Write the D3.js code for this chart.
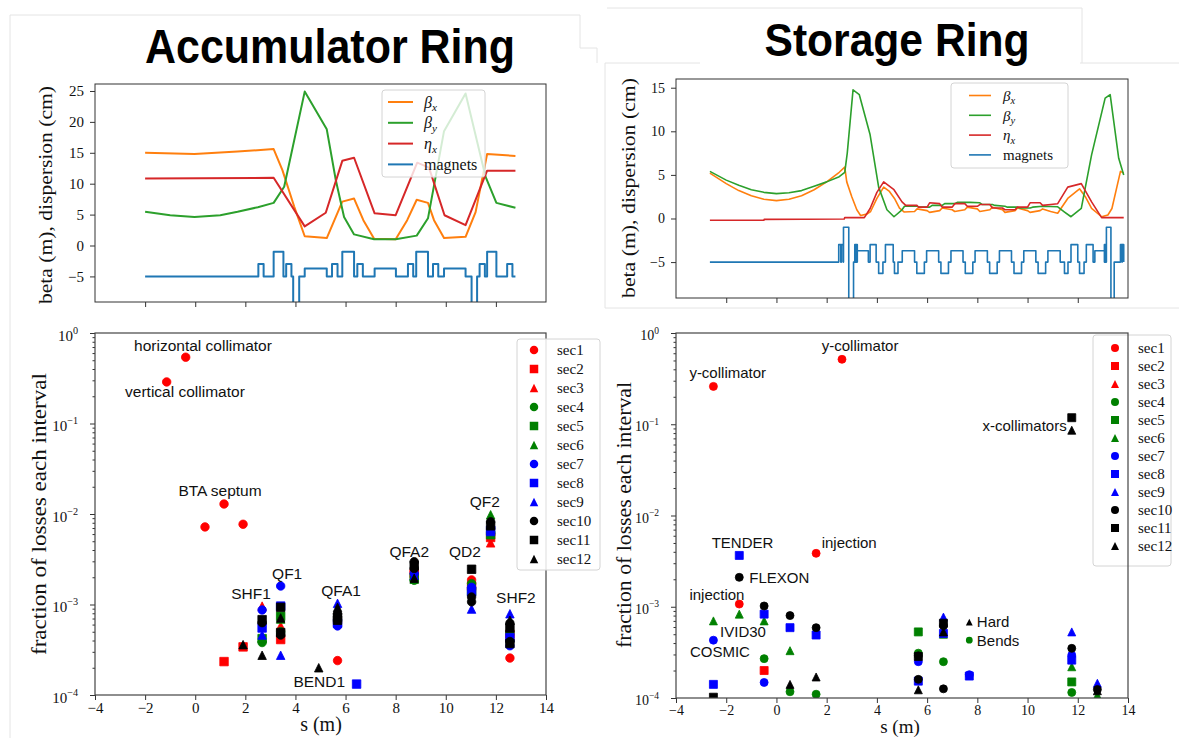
<!DOCTYPE html>
<html>
<head>
<meta charset="utf-8">
<script src="https://cdn.jsdelivr.net/npm/d3@7"></script>
<style>
  body { margin: 0; background: #fff; }
</style>
</head>
<body>
<svg id="chart" width="1179" height="738"></svg>
<script>
// ---------------- data ----------------
// optics, accumulator ring: [s (m), value]
const arBetaX = [[-2,15.0],[-0.03,14.8],[1.69,15.2],[3.13,15.6],[3.48,12.2],[3.95,6.3],[4.37,1.5],[5.25,1.2],[5.87,7.1],[6.34,7.6],[6.71,4.1],[7.14,1.1],[8.0,1.0],[8.46,4.1],[8.84,7.4],[9.29,6.9],[9.53,4.1],[9.93,1.2],[10.79,1.4],[11.19,5.4],[11.65,14.8],[12.78,14.5]];
const arBetaY = [[-2,5.45],[-1,4.9],[-0.03,4.6],[1,4.9],[1.69,5.45],[2.5,6.2],[3.13,6.9],[3.55,9.5],[4.37,24.9],[5.25,18.8],[5.61,10.6],[5.94,4.6],[6.34,1.8],[7.14,1.0],[8.0,1.0],[8.84,1.6],[9.29,4.4],[9.93,18.5],[10.79,24.6],[11.59,11.1],[12.02,6.9],[12.78,6.1]];
const arEtaX = [[-2,10.84],[3.13,10.95],[4.37,3.1],[5.21,5.3],[5.87,13.7],[6.34,14.2],[7.16,5.2],[8.0,4.9],[8.86,13.4],[9.33,12.6],[9.95,4.9],[10.79,3.3],[11.65,12.1],[12.78,12.1]];
// magnets: [s start, s end, level]
const arMagnets = [[2.52,2.73,-3],[3.13,3.52,-1],[3.63,3.84,-3],[3.91,4.15,-10],[4.37,5.25,-3.7],[5.46,5.68,-3],[5.87,6.34,-1],[6.47,6.69,-3],[7.16,8.01,-3.7],[8.49,8.70,-3],[8.82,9.29,-1],[9.49,9.70,-3],[9.93,10.79,-3.7],[11.03,11.25,-10],[11.35,11.56,-3],[11.65,12.02,-1],[12.45,12.66,-3]];
const arSpan = [-2, 12.78];

// optics, storage ring
const srBetaX = [[-2.65,5.2],[-2.0,4.0],[-1.5,3.2],[-1.0,2.6],[-0.5,2.2],[0,2.05],[0.5,2.2],[1.0,2.6],[1.5,3.3],[2.0,4.2],[2.5,5.3],[2.72,5.9],[2.8,4.2],[3.0,2.5],[3.2,1.0],[3.35,0.35],[3.6,0.5],[3.75,0.8],[4.0,2.3],[4.27,3.6],[4.5,3.1],[4.7,2.3],[4.9,1.2],[5.08,0.75],[5.5,0.8],[5.6,1.1],[6.0,0.9],[6.1,0.7],[6.5,0.9],[6.6,1.2],[7.0,1.0],[7.1,0.8],[7.5,1.0],[7.6,1.3],[8.0,1.1],[8.1,0.8],[8.5,1.0],[8.6,1.3],[9.0,1.0],[9.1,0.7],[9.5,0.9],[9.6,1.2],[10.0,0.9],[10.1,0.7],[10.5,0.9],[10.6,1.1],[10.92,0.8],[11.2,0.6],[11.6,2.3],[12.07,3.4],[12.3,2.5],[12.55,1.15],[12.95,0.2],[13.2,0.4],[13.36,1.15],[13.7,5.4],[13.83,5.2]];
const srBetaY = [[-2.65,5.4],[-2.0,4.4],[-1.5,3.8],[-1.0,3.3],[-0.5,3.0],[0,2.85],[0.5,2.95],[1.0,3.2],[1.5,3.7],[2.0,4.2],[2.5,4.8],[2.72,5.3],[2.82,7.5],[3.05,14.75],[3.3,14.2],[3.73,9.6],[4.07,3.6],[4.4,1.0],[4.68,0.2],[5.0,1.0],[5.1,1.4],[5.6,1.4],[5.7,1.3],[6.1,1.3],[6.2,1.5],[6.6,1.5],[6.7,1.7],[7.1,1.7],[7.2,1.85],[7.7,1.85],[8.1,1.8],[8.2,1.6],[8.6,1.6],[8.7,1.5],[9.1,1.4],[9.2,1.3],[9.6,1.3],[9.7,1.2],[10.1,1.2],[10.2,1.3],[10.6,1.4],[11.19,1.35],[11.46,0.77],[11.73,0.2],[12.14,1.15],[12.55,7.3],[13.09,13.8],[13.29,14.2],[13.63,6.9],[13.83,5.0]];
const srEtaX = [[-2.65,-0.2],[-0.5,-0.2],[-0.49,-0.1],[2.7,-0.05],[2.72,0.1],[3.5,0.1],[3.73,1.15],[4.0,3.0],[4.27,4.2],[4.68,3.3],[5.0,1.9],[5.15,1.5],[5.6,1.5],[5.65,1.3],[6.0,1.3],[6.1,1.8],[6.5,1.7],[6.6,1.3],[7.0,1.3],[7.1,1.7],[7.5,1.7],[7.6,1.4],[8.0,1.4],[8.1,1.6],[8.5,1.6],[8.6,1.2],[9.0,1.2],[9.1,1.0],[9.5,1.0],[9.6,1.3],[10.0,1.3],[10.1,1.8],[10.5,1.8],[10.6,1.5],[10.92,1.6],[11.2,1.7],[11.6,3.6],[12.14,4.0],[12.55,1.9],[12.95,0.1],[13.83,0.1]];
const srMagnets = [[2.48,2.56,-3],[2.59,2.66,-3],[2.67,2.88,-1],[2.88,3.07,-10],[3.12,3.16,-3],[3.18,3.22,-3],[3.22,3.66,-3.7],[3.73,3.97,-3],[4.07,4.24,-6.3],[4.34,4.65,-3],[4.70,4.84,-6.3],[5.01,5.50,-3.7],[5.59,5.89,-6.3],[5.98,6.46,-3.7],[6.55,6.85,-6.3],[6.95,7.43,-3.7],[7.52,7.82,-6.3],[7.91,8.40,-3.7],[8.49,8.79,-6.3],[8.88,9.36,-3.7],[9.46,9.76,-6.3],[9.85,10.33,-3.7],[10.42,10.72,-6.3],[10.81,11.30,-3.7],[11.47,11.61,-6.3],[11.73,12.0,-3],[12.07,12.25,-6.3],[12.34,12.61,-3],[12.68,13.06,-3.7],[13.06,13.1,-3],[13.1,13.14,-3],[13.14,13.32,-1],[13.32,13.45,-10],[13.7,13.76,-3],[13.77,13.83,-3]];
const srSpan = [-2.65, 13.83];

// losses per sector, accumulator ring: [s (m), fraction]
const arSec01 = [[-1.14,0.288],[-0.38,0.54],[0.39,0.0072],[1.15,0.0129],[1.91,0.0077],[5.68,2.4e-4],[8.74,2.3e-3],[11.03,1.87e-3],[11.79,6.0e-3],[12.56,2.56e-4]];
const arSec02 = [[1.15,2.34e-4],[1.91,3.4e-4],[3.41,4.1e-4],[8.74,2.2e-3],[11.03,1.6e-3],[11.79,5.5e-3],[12.56,4.7e-4]];
const arSec03 = [[2.67,9.6e-4],[3.41,5.8e-4],[5.68,7.0e-4],[8.74,2.1e-3],[11.79,4.8e-3],[12.56,5.1e-4]];
const arSec04 = [[2.67,3.8e-4],[3.41,5.0e-4],[8.74,1.85e-3],[11.03,1.7e-3],[11.79,6.2e-3],[12.56,4.9e-4]];
const arSec05 = [[2.67,4.2e-4],[3.41,7.4e-4],[8.74,2.0e-3],[11.03,1.4e-3],[11.79,5.9e-3]];
const arSec06 = [[2.67,4.3e-4],[3.41,6.9e-4],[5.68,7.5e-4],[8.74,1.9e-3],[11.79,9.8e-3],[12.56,4.5e-4]];
const arSec07 = [[2.67,8.7e-4],[3.41,1.6e-3],[5.68,5.8e-4],[8.74,2.2e-3],[11.03,1.55e-3],[11.79,7.0e-3],[12.56,3.5e-4]];
const arSec08 = [[2.67,5.5e-4],[3.41,9.6e-4],[5.68,6.2e-4],[6.44,1.32e-4],[11.03,1.38e-3],[11.79,6.6e-3],[12.56,4.3e-4]];
const arSec09 = [[2.67,4.6e-4],[3.41,2.75e-4],[5.68,1.03e-3],[8.74,2.1e-3],[11.03,8.9e-4],[11.79,6.4e-3],[12.56,7.9e-4]];
const arSec10 = [[2.67,6.3e-4],[3.41,4.6e-4],[5.68,7.9e-4],[8.74,2.97e-3],[8.74,2.5e-3],[11.03,1.21e-3],[11.03,1.07e-3],[11.79,8.2e-3],[12.56,6.2e-4],[12.56,3.9e-4]];
const arSec11 = [[2.67,6.8e-4],[3.41,9.3e-4],[3.41,4.9e-4],[5.68,7.2e-4],[5.68,6.7e-4],[8.74,2.7e-3],[11.03,2.45e-3],[11.79,7.4e-3],[12.56,5.5e-4],[12.56,3.7e-4]];
const arSec12 = [[1.91,3.6e-4],[2.67,2.75e-4],[3.41,7.1e-4],[4.93,2.0e-4],[5.68,9.3e-4],[8.74,1.95e-3],[11.79,7.6e-3],[12.56,6.7e-4]];

// losses per sector, storage ring
const srSec01 = [[-2.51,0.26],[-1.48,1.07e-3],[1.58,3.85e-3],[2.61,0.515]];
const srSec02 = [[-0.49,2.0e-4]];
const srSec03 = [];
const srSec04 = [[-0.49,2.7e-4],[0.54,1.17e-4],[1.58,1.1e-4],[5.65,3.1e-4],[6.65,2.5e-4],[11.76,1.15e-4]];
const srSec05 = [[5.65,5.3e-4],[11.76,1.5e-4]];
const srSec06 = [[-2.51,7.0e-4],[-1.48,8.3e-4],[-0.49,7.0e-4],[0.54,3.3e-4],[6.65,5.0e-4],[11.76,2.2e-4],[12.78,1.07e-4]];
const srSec07 = [[-2.51,4.3e-4],[-0.49,1.48e-4],[5.65,2.5e-4],[7.68,1.8e-4],[11.76,2.95e-4]];
const srSec08 = [[-2.51,1.41e-4],[-1.48,3.65e-3],[-0.49,8.3e-4],[0.54,5.9e-4],[1.58,4.9e-4],[5.65,1.53e-4],[6.65,5.1e-4],[7.68,1.74e-4],[11.76,2.6e-4]];
const srSec09 = [[6.65,7.7e-4],[11.76,5.3e-4],[12.78,1.45e-4]];
const srSec10 = [[-1.48,2.1e-3],[-0.49,1.02e-3],[0.54,8.0e-4],[1.58,5.9e-4],[5.65,2.9e-4],[5.65,1.6e-4],[6.65,6.2e-4],[6.65,1.26e-4],[11.76,3.5e-4],[12.78,1.24e-4]];
const srSec11 = [[-2.51,1.02e-4],[5.65,2.85e-4],[6.65,6.6e-4],[11.76,0.118]];
const srSec12 = [[0.54,1.41e-4],[1.58,1.7e-4],[5.65,1.23e-4],[6.65,5.3e-4],[11.76,0.086],[12.78,1.2e-4]];

// annotations: [text, s, fraction, anchor]
const arNotes = [["horizontal collimator",0.31,0.637,"middle"],["vertical collimator",-0.41,0.196,"middle"],["BTA septum",0.99,0.0158,"middle"],["SHF1",2.23,1.15e-3,"middle"],["QF1",3.67,1.9e-3,"middle"],["QFA1",5.82,1.24e-3,"middle"],["BEND1",4.95,1.24e-4,"middle"],["QFA2",8.54,3.37e-3,"middle"],["QD2",10.76,3.37e-3,"middle"],["QF2",11.56,0.012,"middle"],["SHF2",12.8,1.05e-3,"middle"]];
const srNotes = [["y-collimator",-1.94,0.325,"middle"],["y-collimator",3.33,0.635,"middle"],["TENDER",-1.35,4.35e-3,"middle"],["injection",1.80,4.35e-3,"start"],["FLEXON",-1.08,1.8e-3,"start"],["injection",-2.37,1.2e-3,"middle"],["IVID30",-1.33,4.68e-4,"middle"],["COSMIC",-2.25,2.83e-4,"middle"],["x-collimators",11.56,0.0838,"end"],["Hard",7.98,5.98e-4,"start"],["Bends",7.98,3.75e-4,"start"]];
// small key markers next to Hard / Bends
const srKey = [[7.68,6.8e-4,"^","#000000"],[7.68,4.3e-4,"o","#008000"]];

const secLabels = ["sec1","sec2","sec3","sec4","sec5","sec6","sec7","sec8","sec9","sec10","sec11","sec12"];
const secColors = ["#ff0000","#ff0000","#ff0000","#008000","#008000","#008000","#0000ff","#0000ff","#0000ff","#000000","#000000","#000000"];
const secShapes = ["o","s","^","o","s","^","o","s","^","o","s","^"];

const opticsLabels = [["β","x"],["β","y"],["η","x"],["magnets",""]];
const opticsColors = ["#ff7f0e","#2ca02c","#d62728","#1f77b4"];

const xTicksTop = [-2,0,2,4,6,8,10,12];
const xTicksBottom = [-4,-2,0,2,4,6,8,10,12,14];
const decades = [1e-4,1e-3,1e-2,1e-1,1];
const decadeExp = [-4,-3,-2,-1,0];

// ---------------- drawing ----------------
const svg = d3.select("#chart");
const serif = "Liberation Serif, DejaVu Serif, serif";
const sans = "Liberation Sans, Arial, sans-serif";
const MINUS = "\u2212";
const fmt = d => d < 0 ? MINUS + Math.abs(d) : String(d);

// faint frames of the pasted panels
const faint = svg.append("g").attr("fill", "none").attr("stroke", "#e4e4e4").attr("stroke-width", 1);
faint.append("path").attr("d", "M10,15H580V48H597V63");
faint.append("path").attr("d", "M10,15V738");
faint.append("path").attr("d", "M607,8H1082V63");
faint.append("path").attr("d", "M605,63H700M1080,63H1179M605,63V308H1179");

// titles
svg.append("text").attr("x", 330).attr("y", 63).attr("text-anchor", "middle")
  .attr("font-family", sans).attr("font-weight", "bold").attr("font-size", 49)
  .attr("textLength", 370).attr("lengthAdjust", "spacingAndGlyphs").text("Accumulator Ring");
svg.append("text").attr("x", 897).attr("y", 56).attr("text-anchor", "middle")
  .attr("font-family", sans).attr("font-weight", "bold").attr("font-size", 47)
  .attr("textLength", 265).attr("lengthAdjust", "spacingAndGlyphs").text("Storage Ring");

function markerPath(shape, m) {
  const p = d3.path(), r = m / 2;
  if (shape === "o") p.arc(0, 0, r, 0, 2 * Math.PI);
  else if (shape === "s") p.rect(-r, -r, m, m);
  else { p.moveTo(0, -r); p.lineTo(r, r); p.lineTo(-r, r); p.closePath(); }
  return p.toString();
}

function magnetPoints(list, span) {
  const pts = [[span[0], -5]];
  list.forEach(([a, b, h]) => { pts.push([a, -5], [a, h], [b, h], [b, -5]); });
  pts.push([span[1], -5]);
  return pts;
}

function styleAxis(a, size) {
  a.select(".domain").remove();
  a.selectAll("line").attr("stroke", "#333").attr("stroke-width", 1);
  a.selectAll("text").attr("font-family", serif).attr("font-size", size).attr("fill", "#111");
}

function yLabel(cx, cy, len, size, text) {
  svg.append("text").attr("transform", `translate(${cx},${cy}) rotate(-90)`)
    .attr("text-anchor", "middle").attr("dy", "0.35em")
    .attr("font-family", serif).attr("font-size", size).attr("fill", "#111")
    .attr("textLength", len).attr("lengthAdjust", "spacingAndGlyphs").text(text);
}

function opticsPanel(o) {
  const g = svg.append("g");
  const x = d3.scaleLinear().domain([-4, 14]).range([o.left, o.right]);
  const y = d3.scaleLinear().domain(o.yDomain).range([o.bottom, o.top]);
  svg.append("clipPath").attr("id", o.id).append("rect")
    .attr("x", o.left).attr("y", o.top).attr("width", o.right - o.left).attr("height", o.bottom - o.top);
  const plot = g.append("g").attr("clip-path", `url(#${o.id})`);
  const line = d3.line().x(d => x(d[0])).y(d => y(d[1]));
  const series = [o.bx, o.by, o.eta, magnetPoints(o.magnets, o.span)];
  series.forEach((s, i) => {
    plot.append("path").datum(s).attr("d", line).attr("fill", "none")
      .attr("stroke", opticsColors[i]).attr("stroke-width", o.lw).attr("stroke-linejoin", "round");
  });

  const xa = g.append("g").attr("transform", `translate(0,${o.bottom})`)
    .call(d3.axisBottom(x).tickValues(xTicksTop).tickSize(5).tickSizeOuter(0).tickFormat(""));
  styleAxis(xa, o.tick);
  const ya = g.append("g").attr("transform", `translate(${o.left},0)`)
    .call(d3.axisLeft(y).tickValues(o.yTicks).tickSize(5).tickPadding(6).tickSizeOuter(0).tickFormat(fmt));
  styleAxis(ya, o.tick);
  g.append("rect").attr("x", o.left).attr("y", o.top).attr("width", o.right - o.left).attr("height", o.bottom - o.top)
    .attr("fill", "none").attr("stroke", "#333").attr("stroke-width", 1);

  // legend
  const L = o.legend;
  const lg = g.append("g");
  lg.append("rect").attr("x", L.x).attr("y", L.y).attr("width", L.w).attr("height", L.h).attr("rx", 3)
    .attr("fill", "#fff").attr("fill-opacity", 0.8).attr("stroke", "#d4d4d4");
  opticsLabels.forEach(([main, sub], i) => {
    const yy = L.y + L.row0 + i * L.step;
    lg.append("line").attr("x1", L.x + L.l0).attr("x2", L.x + L.l1).attr("y1", yy).attr("y2", yy)
      .attr("stroke", opticsColors[i]).attr("stroke-width", o.lw);
    const t = lg.append("text").attr("x", L.x + L.tx).attr("y", yy).attr("dy", "0.35em")
      .attr("font-family", serif).attr("font-size", L.font).attr("fill", "#111");
    if (sub) {
      t.append("tspan").attr("font-style", "italic").text(main);
      t.append("tspan").attr("font-style", "italic").attr("font-size", L.font * 0.7).attr("dy", L.font * 0.22).text(sub);
    } else {
      t.text(main);
    }
  });
  yLabel(o.ylab[0], o.ylab[1], o.ylab[2], o.ylab[3], "beta (m), dispersion (cm)");
}

function lossPanel(o) {
  const g = svg.append("g");
  const x = d3.scaleLinear().domain([-4, 14]).range([o.left, o.right]);
  const y = d3.scaleLog().domain([1e-4, 1]).range([o.bottom, o.top]);
  svg.append("clipPath").attr("id", o.id).append("rect")
    .attr("x", o.left).attr("y", o.top).attr("width", o.right - o.left).attr("height", o.bottom - o.top);

  const frame = () => g.append("rect").attr("x", o.left).attr("y", o.top)
    .attr("width", o.right - o.left).attr("height", o.bottom - o.top)
    .attr("fill", "none").attr("stroke", "#444").attr("stroke-width", 1.2);

  const xa = g.append("g").attr("transform", `translate(0,${o.bottom})`)
    .call(d3.axisBottom(x).tickValues(xTicksBottom).tickSize(5).tickPadding(2).tickSizeOuter(0).tickFormat(fmt));
  styleAxis(xa, o.tick);

  const minors = [];
  decades.slice(0, 4).forEach(d => { for (let k = 2; k < 10; k++) minors.push(d * k); });
  const ym = g.append("g").attr("transform", `translate(${o.left},0)`)
    .call(d3.axisLeft(y).tickValues(minors).tickSize(2.5).tickSizeOuter(0).tickFormat(""));
  styleAxis(ym, o.tick);
  const yM = g.append("g").attr("transform", `translate(${o.left},0)`)
    .call(d3.axisLeft(y).tickValues(decades).tickSize(5).tickSizeOuter(0).tickFormat(""));
  styleAxis(yM, o.tick);
  decades.forEach((d, i) => {
    const t = g.append("text").attr("x", o.left - 17).attr("y", y(d)).attr("dy", "0.5em")
      .attr("text-anchor", "end").attr("font-family", serif).attr("font-size", o.tick).attr("fill", "#111");
    t.append("tspan").text("10");
    t.append("tspan").attr("font-size", o.tick * 0.68).attr("dy", -o.tick * 0.45)
      .text(decadeExp[i] < 0 ? MINUS + Math.abs(decadeExp[i]) : decadeExp[i]);
  });

  if (!o.frameOnTop) frame();

  const plot = g.append("g").attr("clip-path", `url(#${o.id})`);
  o.series.forEach((pts, i) => {
    plot.append("g").selectAll("path").data(pts).join("path")
      .attr("transform", d => `translate(${x(d[0])},${y(d[1])})`)
      .attr("d", markerPath(secShapes[i], o.m))
      .attr("fill", secColors[i]).attr("stroke", secColors[i]).attr("stroke-width", 0.8);
  });

  // annotations
  o.notes.forEach(([txt, s, v, anchor]) => {
    g.append("text").attr("x", x(s)).attr("y", y(v)).attr("text-anchor", anchor)
      .attr("font-family", sans).attr("font-size", o.noteFont).attr("fill", "#111").text(txt);
  });
  (o.key || []).forEach(([s, v, shape, col]) => {
    g.append("path").attr("transform", `translate(${x(s)},${y(v)})`)
      .attr("d", markerPath(shape, o.m * 0.85)).attr("fill", col);
  });

  // legend
  const L = o.legend;
  const lg = g.append("g");
  lg.append("rect").attr("x", L.x).attr("y", L.y).attr("width", L.w).attr("height", L.h).attr("rx", 3)
    .attr("fill", "#fff").attr("fill-opacity", L.alpha).attr("stroke", "#d4d4d4");
  secLabels.forEach((lab, i) => {
    const yy = L.y + L.row0 + i * L.step;
    lg.append("path").attr("transform", `translate(${L.x + L.mx},${yy})`)
      .attr("d", markerPath(secShapes[i], o.m)).attr("fill", secColors[i]);
    lg.append("text").attr("x", L.x + L.tx).attr("y", yy).attr("dy", "0.35em")
      .attr("font-family", serif).attr("font-size", L.font).attr("fill", "#111").text(lab);
  });

  if (o.frameOnTop) frame();

  yLabel(o.ylab[0], o.ylab[1], o.ylab[2], o.ylab[3], "fraction of losses each interval");
  svg.append("text").attr("x", o.xlab[0]).attr("y", o.xlab[1]).attr("text-anchor", "middle")
    .attr("font-family", serif).attr("font-size", o.xlab[2]).attr("fill", "#111").text("s (m)");
}

opticsPanel({
  id: "clipAR1", left: 95, right: 546, top: 84, bottom: 302, yDomain: [-9.14, 26.13],
  yTicks: [-5, 0, 5, 10, 15, 20, 25], tick: 15, lw: 2,
  bx: arBetaX, by: arBetaY, eta: arEtaX, magnets: arMagnets, span: arSpan,
  legend: { x: 382, y: 90, w: 103, h: 87, row0: 12, step: 20.8, l0: 6, l1: 31, tx: 42, font: 16 },
  ylab: [45, 195, 218, 19]
});

opticsPanel({
  id: "clipSR1", left: 676, right: 1128, top: 79, bottom: 298, yDomain: [-9.12, 16.0],
  yTicks: [-5, 0, 5, 10, 15], tick: 14, lw: 1.6,
  bx: srBetaX, by: srBetaY, eta: srEtaX, magnets: srMagnets, span: srSpan,
  legend: { x: 951, y: 83, w: 117, h: 85, row0: 12.5, step: 19.8, l0: 18, l1: 40, tx: 52, font: 15 },
  ylab: [628, 188, 220, 19]
});

lossPanel({
  id: "clipAR2", left: 95, right: 546, top: 333, bottom: 695, tick: 15, m: 8.5, noteFont: 15.5,
  series: [arSec01, arSec02, arSec03, arSec04, arSec05, arSec06, arSec07, arSec08, arSec09, arSec10, arSec11, arSec12],
  notes: arNotes, frameOnTop: false,
  legend: { x: 517, y: 339, w: 83, h: 231, alpha: 0.85, row0: 11, step: 19, mx: 17, tx: 40, font: 15 },
  ylab: [39, 514, 282, 21], xlab: [321, 731, 20]
});

lossPanel({
  id: "clipSR2", left: 676, right: 1128, top: 333, bottom: 698, tick: 14, m: 8, noteFont: 15,
  series: [srSec01, srSec02, srSec03, srSec04, srSec05, srSec06, srSec07, srSec08, srSec09, srSec10, srSec11, srSec12],
  notes: srNotes, key: srKey, frameOnTop: true,
  legend: { x: 1093, y: 335, w: 78, h: 231, alpha: 0.85, row0: 13, step: 18, mx: 22, tx: 45, font: 15 },
  ylab: [624, 515, 266, 20], xlab: [900, 733, 19]
});
</script>
</body>
</html>
